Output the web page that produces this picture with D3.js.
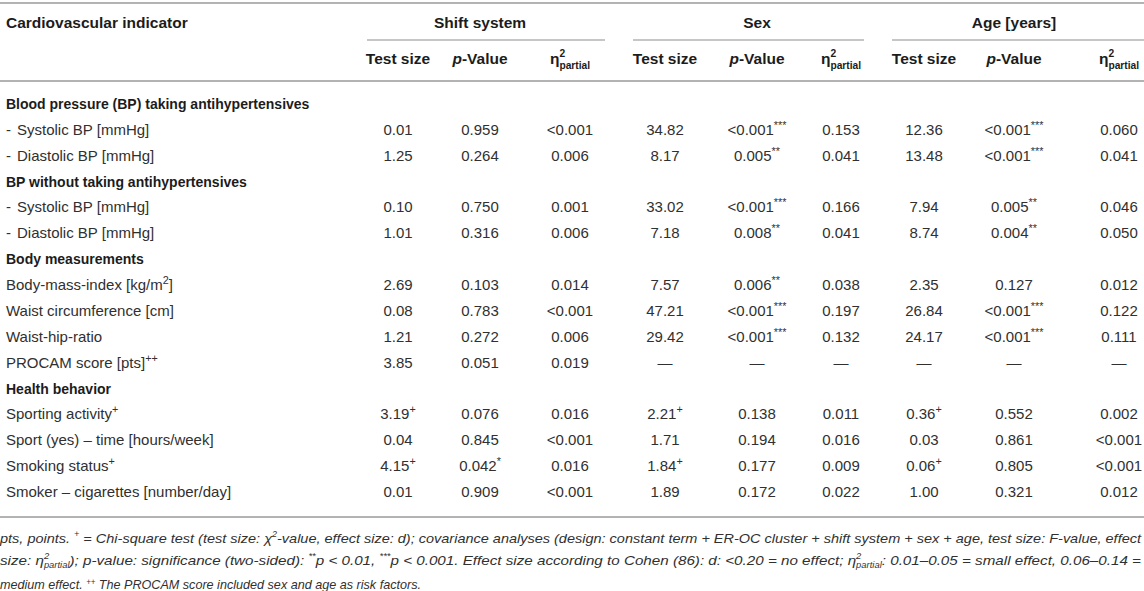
<!DOCTYPE html>
<html>
<head>
<meta charset="utf-8">
<script src="https://cdn.jsdelivr.net/npm/d3@7"></script>
<style>
  html, body { margin: 0; padding: 0; background: #fff; }
  svg { display: block; }
</style>
</head>
<body>
<svg id="chart" width="1144" height="591"></svg>
<script>
// ---------------- data ----------------
const groups = ["Shift system", "Sex", "Age [years]"];
const subHeads = ["Test size", "*{p}-Value", "η^{2}_{partial}"];
const rowLabels = [
  "Blood pressure (BP) taking antihypertensives",
  "-  Systolic BP [mmHg]",
  "-  Diastolic BP [mmHg]",
  "BP without taking antihypertensives",
  "-  Systolic BP [mmHg]",
  "-  Diastolic BP [mmHg]",
  "Body measurements",
  "Body-mass-index [kg/m^{2}]",
  "Waist circumference [cm]",
  "Waist-hip-ratio",
  "PROCAM score [pts]^{++}",
  "Health behavior",
  "Sporting activity^{+}",
  "Sport (yes) – time [hours/week]",
  "Smoking status^{+}",
  "Smoker – cigarettes [number/day]"
];
const sectionRow = [true,false,false,true,false,false,true,false,false,false,false,true,false,false,false,false];

const shiftTest = [null,"0.01","1.25",null,"0.10","1.01",null,"2.69","0.08","1.21","3.85",null,"3.19+","0.04","4.15+","0.01"];
const shiftP    = [null,"0.959","0.264",null,"0.750","0.316",null,"0.103","0.783","0.272","0.051",null,"0.076","0.845","0.042*","0.909"];
const shiftEta  = [null,"<0.001","0.006",null,"0.001","0.006",null,"0.014","<0.001","0.006","0.019",null,"0.016","<0.001","0.016","<0.001"];
const sexTest   = [null,"34.82","8.17",null,"33.02","7.18",null,"7.57","47.21","29.42","—",null,"2.21+","1.71","1.84+","1.89"];
const sexP      = [null,"<0.001***","0.005**",null,"<0.001***","0.008**",null,"0.006**","<0.001***","<0.001***","—",null,"0.138","0.194","0.177","0.172"];
const sexEta    = [null,"0.153","0.041",null,"0.166","0.041",null,"0.038","0.197","0.132","—",null,"0.011","0.016","0.009","0.022"];
const ageTest   = [null,"12.36","13.48",null,"7.94","8.74",null,"2.35","26.84","24.17","—",null,"0.36+","0.03","0.06+","1.00"];
const ageP      = [null,"<0.001***","<0.001***",null,"0.005**","0.004**",null,"0.127","<0.001***","<0.001***","—",null,"0.552","0.861","0.805","0.321"];
const ageEta    = [null,"0.060","0.041",null,"0.046","0.050",null,"0.012","0.122","0.111","—",null,"0.002","<0.001","<0.001","0.012"];

const footnoteLines = [
  "pts, points. ^{+} = Chi-square test (test size: χ^{2}-value, effect size: d); covariance analyses (design: constant term + ER-OC cluster + shift system + sex + age, test size: F-value, effect",
  "size: η^{2}_{partial}); p-value: significance (two-sided): ^{**}p < 0.01, ^{***}p < 0.001. Effect size according to Cohen (86): d: <0.20 = no effect; η^{2}_{partial}: 0.01–0.05 = small effect, 0.06–0.14 =",
  "medium effect. ^{++} The PROCAM score included sex and age as risk factors."
];

// ---------------- layout ----------------
const W = 1144, H = 591;
const FONT = "'Liberation Sans', Arial, Helvetica, sans-serif";
const svg = d3.select("#chart").attr("font-family", FONT);
const columns = [
  [shiftTest, shiftP, shiftEta],
  [sexTest, sexP, sexEta],
  [ageTest, ageP, ageEta]
];
const groupX = d3.scaleOrdinal().domain(groups).range([[367, 605], [633, 864], [892, 1144]]);
const colX = d3.scaleOrdinal()
  .domain(d3.range(9))
  .range([398, 480, 570, 665, 757, 841, 924, 1014, 1119]);
const rowY = d3.scalePoint().domain(d3.range(rowLabels.length)).range([104, 492]);

const lineColor = "#b3b3b3";
const textColor = "#303030";
const boldColor = "#1c1c1c";

function rich(textSel, str, base, opt) {
  const o = Object.assign({ sup: 0.4, sub: 0.3, scale: 0.72 }, opt || {});
  const parts = str.split(/(\^\{[^}]*\}|_\{[^}]*\}|\*\{[^}]*\})/).filter(s => s !== "");
  let shift = 0, lastSup = null;
  parts.forEach(p => {
    let kind = "n", t = p;
    if (p.startsWith("^{")) { kind = "sup"; t = p.slice(2, -1); }
    else if (p.startsWith("_{")) { kind = "sub"; t = p.slice(2, -1); }
    else if (p.startsWith("*{")) { kind = "it"; t = p.slice(2, -1); }
    const target = kind === "sup" ? -base * o.sup : kind === "sub" ? base * o.sub : 0;
    const ts = textSel.append("tspan").text(t);
    if (target - shift !== 0) ts.attr("dy", target - shift);
    shift = target;
    if (kind === "sup" || kind === "sub") ts.attr("font-size", base * o.scale);
    if (kind === "it") ts.attr("font-style", "italic");
    if (kind === "sub" && lastSup) ts.attr("dx", -lastSup.node().getComputedTextLength());
    lastSup = kind === "sup" ? ts : null;
  });
}

function valueMarkup(v) {
  const m = v.match(/^(.*?)([+*]+)$/);
  return m ? m[1] + "^{" + m[2] + "}" : v;
}

// rules
const rules = svg.append("g");
[3, 81, 517].forEach(y => {
  rules.append("line").attr("x1", 0).attr("x2", W).attr("y1", y).attr("y2", y)
    .attr("stroke", lineColor).attr("stroke-width", 2);
});
rules.selectAll("line.grp").data(groups).join("line").attr("class", "grp")
  .attr("x1", d => groupX(d)[0]).attr("x2", d => groupX(d)[1])
  .attr("y1", 40).attr("y2", 40)
  .attr("stroke", lineColor).attr("stroke-width", 1.5);

// header
const HB = 15.5;
svg.append("text").attr("x", 6).attr("y", 28).attr("font-size", HB)
  .attr("font-weight", "bold").attr("fill", boldColor).text("Cardiovascular indicator");

svg.selectAll("text.grp").data(groups).join("text").attr("class", "grp")
  .attr("x", (d, i) => colX(i * 3 + 1)).attr("y", 28)
  .attr("text-anchor", "middle").attr("font-size", HB).attr("font-weight", "bold")
  .attr("fill", boldColor).text(d => d);

groups.forEach((g, gi) => {
  subHeads.forEach((s, si) => {
    const t = svg.append("text").attr("x", colX(gi * 3 + si)).attr("y", 64)
      .attr("text-anchor", "middle").attr("font-size", HB).attr("font-weight", "bold")
      .attr("fill", boldColor);
    rich(t, s, HB, { sup: 0.45, sub: 0.32, scale: 0.66 });
  });
});

// rows
const FS = 15;
const SB = 14;
rowLabels.forEach((lab, i) => {
  const y = rowY(i) + 5;
  if (sectionRow[i]) {
    svg.append("text").attr("x", 6).attr("y", y).attr("font-size", SB)
      .attr("font-weight", "bold").attr("fill", boldColor).text(lab);
  } else if (lab.startsWith("-  ")) {
    svg.append("text").attr("x", 6).attr("y", y).attr("font-size", FS)
      .attr("fill", textColor).text("-");
    const t = svg.append("text").attr("x", 17).attr("y", y).attr("font-size", FS).attr("fill", textColor);
    rich(t, lab.slice(3), FS);
  } else {
    const t = svg.append("text").attr("x", 6).attr("y", y).attr("font-size", FS).attr("fill", textColor);
    rich(t, lab, FS);
  }
});

columns.forEach((grp, gi) => {
  grp.forEach((col, si) => {
    col.forEach((v, ri) => {
      if (v === null) return;
      const t = svg.append("text").attr("x", colX(gi * 3 + si)).attr("y", rowY(ri) + 5)
        .attr("text-anchor", "middle").attr("font-size", FS).attr("fill", textColor);
      rich(t, valueMarkup(v), FS);
    });
  });
});

// footnote
const FN = 13.5;
const fnY = [543, 565, 589];
const fnWidth = [1141, 1141, 421];
footnoteLines.forEach((line, i) => {
  const t = svg.append("text").attr("x", 0).attr("y", fnY[i]).attr("font-size", FN)
    .attr("font-style", "italic").attr("fill", textColor);
  rich(t, line, FN, { sup: i === 2 ? 0.3 : 0.45, sub: 0.2, scale: 0.62 });
  t.attr("textLength", fnWidth[i]).attr("lengthAdjust", "spacingAndGlyphs");
});
</script>
</body>
</html>
